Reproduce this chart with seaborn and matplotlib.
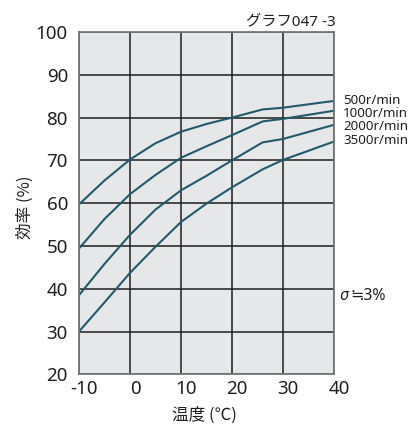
import matplotlib
matplotlib.use("Agg")
import matplotlib.pyplot as plt
import matplotlib.transforms as mtransforms
import seaborn as sns
import pandas as pd

# Temperature (°C) sample points
temperature = [-10, -5, 0, 5, 10, 15, 20, 26, 30, 40]

# Efficiency (%) for each motor speed
eff_500 = [59.7, 65.3, 70.2, 74.0, 76.7, 78.5, 80.0, 81.9, 82.3, 83.9]
eff_1000 = [49.4, 56.3, 62.1, 66.6, 70.6, 73.3, 75.9, 79.1, 79.7, 81.6]
eff_2000 = [38.5, 45.8, 52.6, 58.5, 63.0, 66.4, 70.0, 74.2, 75.0, 78.3]
eff_3500 = [30.0, 36.8, 43.7, 49.8, 55.6, 59.9, 63.7, 67.9, 70.1, 74.4]

speed_labels = ["500r/min", "1000r/min", "2000r/min", "3500r/min"]
# vertical positions (in %) of the speed labels in the right margin
speed_label_y = [84.0, 80.9, 77.8, 74.6]

x_ticks = [-10, 0, 10, 20, 30, 40]
y_ticks = [20, 30, 40, 50, 60, 70, 80, 90, 100]

rows = []
for label, series in zip(speed_labels, [eff_500, eff_1000, eff_2000, eff_3500]):
    for t, e in zip(temperature, series):
        rows.append({"temp": t, "eff": e, "speed": label})
df = pd.DataFrame(rows)

sns.set_theme(style="white")
plt.rcParams["font.family"] = ["Noto Sans", "Noto Sans CJK JP", "DejaVu Sans"]

line_color = "#1f5a6d"
grid_color = "#1e1e1e"
text_color = "#231f20"

fig = plt.figure(figsize=(4.16, 4.25), dpi=100)
ax = fig.add_axes([79 / 416, 1 - 374.3 / 425, 255 / 416, 342.3 / 425])
ax.set_facecolor("#e6e7e8")

sns.lineplot(data=df, x="temp", y="eff", units="speed", estimator=None,
             color=line_color, linewidth=1.5, ax=ax, legend=False)

ax.set_xlim(-10, 40)
ax.set_ylim(20, 100)
ax.set_xticks(x_ticks)
ax.set_yticks(y_ticks)
ax.set_xticklabels([str(v) for v in x_ticks], fontsize=13.5, color=text_color)
ax.set_yticklabels([str(v) for v in y_ticks], fontsize=13.5, color=text_color)
ax.tick_params(axis="x", length=0, pad=4)
ax.tick_params(axis="y", length=0, pad=8)
# x tick labels sit slightly right of their gridlines
shift = mtransforms.ScaledTranslation(5 / 100, 0, fig.dpi_scale_trans)
for lbl in ax.get_xticklabels():
    lbl.set_transform(lbl.get_transform() + shift)

ax.grid(True, color=grid_color, linewidth=1.1)
ax.set_axisbelow(True)
for side in ["left", "right", "top", "bottom"]:
    ax.spines[side].set_color("#777777")
    ax.spines[side].set_linewidth(1.3)

cjk = ["Noto Sans CJK JP", "DejaVu Sans"]
ax.set_xlabel("温度 (℃)", fontsize=12, color=text_color, family=cjk)
ax.xaxis.set_label_coords(0.49, -0.12)
ax.xaxis.label.set_va("center")
ax.set_ylabel("効率 (%)", fontsize=12, color=text_color, family=cjk)
ax.yaxis.set_label_coords(-0.21, 0.487)
ax.yaxis.label.set_va("center")

# Speed labels in the right margin
for label, ly in zip(speed_labels, speed_label_y):
    ax.text(1.035, ly, label, transform=ax.get_yaxis_transform(),
            fontsize=9.6, color=text_color, va="center", ha="left")

ax.text(1.02, 38.3, "σ", transform=ax.get_yaxis_transform(), fontsize=11.5,
        style="italic", color=text_color, va="center", ha="left")
ax.text(1.063, 38.3, "≒3%", transform=ax.get_yaxis_transform(), fontsize=11.5,
        color=text_color, va="center", ha="left")

ax.text(1.008, 102.4, "グラフ047 -3", transform=ax.get_yaxis_transform(),
        fontsize=11, color=text_color, va="center", ha="right",
        family=["Noto Sans", "Noto Sans CJK JP"])

fig.savefig("out.png", dpi=100)
